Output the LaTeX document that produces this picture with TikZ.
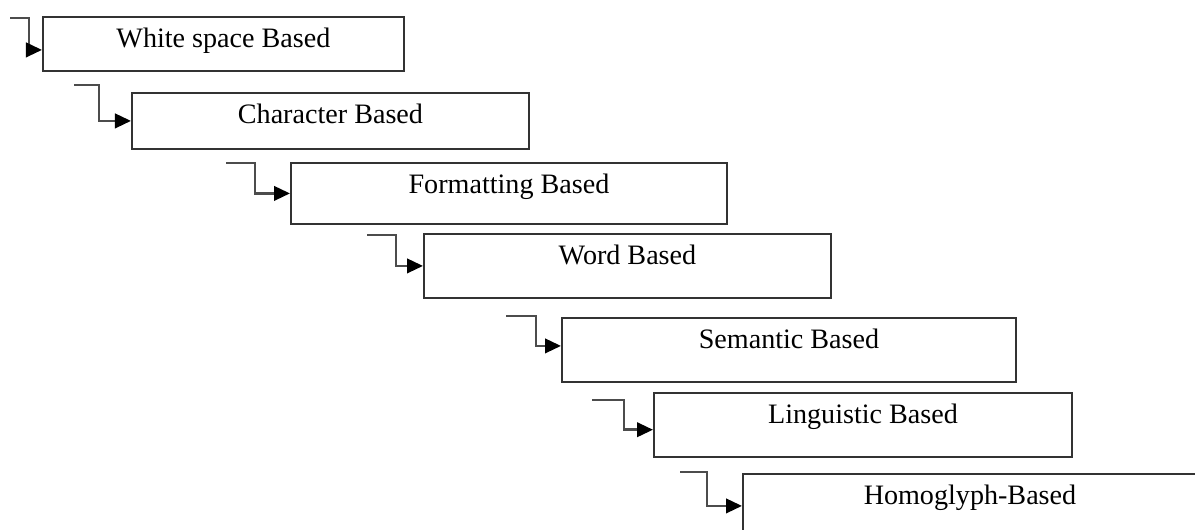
\documentclass[tikz,border=0pt]{standalone}
\usepackage{fontspec}
\setmainfont{Liberation Serif}
\usetikzlibrary{arrows.meta}

\begin{document}
\begin{tikzpicture}[x=0.025cm,y=-0.025cm]

      \useasboundingbox (0,0) rectangle (1195,530);
      \clip (0,0) rectangle (1195,530);

      \begin{scope}[every node/.style={draw=black!80,line width=1.3pt,anchor=north west,
          inner sep=0pt,text height=0.775cm,font=\fontsize{20}{24}\selectfont}]
        \node[minimum width=9.025cm,text depth=0.575cm]  (ws)  at (42,16)   {White space Based};
        \node[minimum width=9.925cm,text depth=0.625cm]  (ch)  at (131,92)  {Character Based};
        \node[minimum width=10.9cm,text depth=0.75cm]    (fm)  at (290,162) {Formatting Based};
        \node[minimum width=10.175cm,text depth=0.825cm] (wd)  at (423,233) {Word Based};
        \node[minimum width=11.35cm,text depth=0.825cm]  (sm)  at (561,317) {Semantic Based};
        \node[minimum width=10.45cm,text depth=0.825cm]  (lg)  at (653,392) {Linguistic Based};
        \node[minimum width=11.35cm,text depth=0.825cm]  (hg)  at (742,473) {Homoglyph-Based};
      \end{scope}

      \coordinate (s1) at (10,18);
      \coordinate (s2) at (74,85);
      \coordinate (s3) at (226,163);
      \coordinate (s4) at (367,235);
      \coordinate (s5) at (506,316);
      \coordinate (s6) at (592,400);
      \coordinate (s7) at (680,472);

      \begin{scope}[draw=black!70,line width=1.9pt,
          -{Triangle[length=0.4cm,width=0.36cm,color=black]}]
        \draw (s1) -- ++(19,0) |- ([yshift=-0.15cm]ws.west);
        \draw (s2) -- ++(25,0) |- (ch);
        \draw (s3) -- ++(29,0) |- (fm);
        \draw (s4) -- ++(29,0) |- (wd);
        \draw (s5) -- ++(30,0) |- ([yshift=0.1cm]sm.west);
        \draw (s6) -- ++(32,0) |- ([yshift=-0.12cm]lg.west);
        \draw (s7) -- ++(27,0) |- (hg);
      \end{scope}

    \end{tikzpicture}
\end{document}
